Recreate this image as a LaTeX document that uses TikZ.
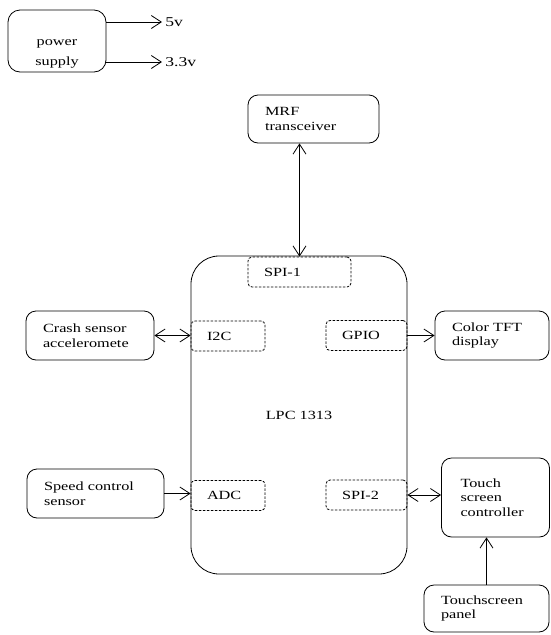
\documentclass[tikz,border=0pt]{standalone}
\usepackage{fontspec}
\setmainfont{Liberation Serif}[FakeStretch=1.3]
\usepackage{tikz}
\usetikzlibrary{arrows.meta}

\begin{document}
\begin{tikzpicture}[x=1pt, y=-1pt, line width=0.8pt,
    >={Straight Barb[length=10pt,width=13pt]},
    font=\fontsize{12.5}{14.5}\selectfont,
    blk/.style={draw, rounded corners=10pt, align=left, inner xsep=17pt, inner ysep=0pt},
    port/.style={draw, dashed, dash pattern=on 2.5pt off 1.5pt, rounded corners=4pt,
      align=left, inner xsep=16pt, inner ysep=0pt, minimum height=30pt}]
    \useasboundingbox (0,0) rectangle (550,635);
    % supply
    \node[draw, rounded corners=12pt, align=center, minimum width=98pt, minimum height=62pt]
      (psu) at (57,41) {\rule{0pt}{32pt}power\\[5pt]supply};
    \node[anchor=west, inner sep=3pt, font=\fontsize{13.5}{15}\selectfont] (v5) at (162,22) {5v};
    \node[anchor=west, inner sep=3pt, font=\fontsize{13.5}{15}\selectfont] (v33) at (162,62) {3.3v};
    \draw[->] (psu.east |- v5.west) -- (v5.west);
    \draw[->] (psu.east |- v33.west) -- (v33.west);
    % controller and its ports
    \node[draw, rounded corners=28pt, minimum width=216pt, minimum height=318pt]
      (lpc) at (299,415) {LPC 1313};
    \node[port, text width=71pt] (spi1) at (299.5,272) {SPI-1};
    \node[port, text width=42pt] (i2c) at (228,336) {I2C};
    \node[port, text width=49pt] (gpio) at (366.5,335.5) {GPIO};
    \node[port, text width=42pt] (adc) at (228,495.5) {ADC};
    \node[port, text width=49pt] (spi2) at (366.5,495) {SPI-2};
    % peripherals
    \node[blk, text width=97pt, minimum height=48pt] (mrf) at (313.5,119) {MRF\\transceiver};
    \node[blk, text width=94pt, minimum height=49pt] (crash) at (90,335.5) {Crash sensor\\acceleromete};
    \node[blk, text width=80pt, minimum height=49pt] (tft) at (492,335.5) {Color TFT\\display};
    \node[blk, text width=103pt, minimum height=49pt] (speed) at (95.5,493.5) {Speed control\\sensor};
    \node[blk, text width=70pt, minimum height=79pt, inner xsep=19pt] (touch) at (495.5,497.5)
      {Touch\\screen\\controller};
    \node[blk, text width=91pt, minimum height=47pt] (panel) at (486.5,608.5) {Touchscreen\\panel};
    % links
    \draw[<->] (spi1.north |- mrf.south) -- (spi1.north);
    \draw[<->] (crash.east) -- (crash.east -| i2c.west);
    \draw[->] (gpio.east) -- (gpio.east -| tft.west);
    \draw[->] (speed.east) -- (speed.east -| adc.west);
    \draw[<->] (spi2.east) -- (spi2.east -| touch.west);
    \draw[->] (panel.north) -- (panel.north |- touch.south);
\end{tikzpicture}
\end{document}
